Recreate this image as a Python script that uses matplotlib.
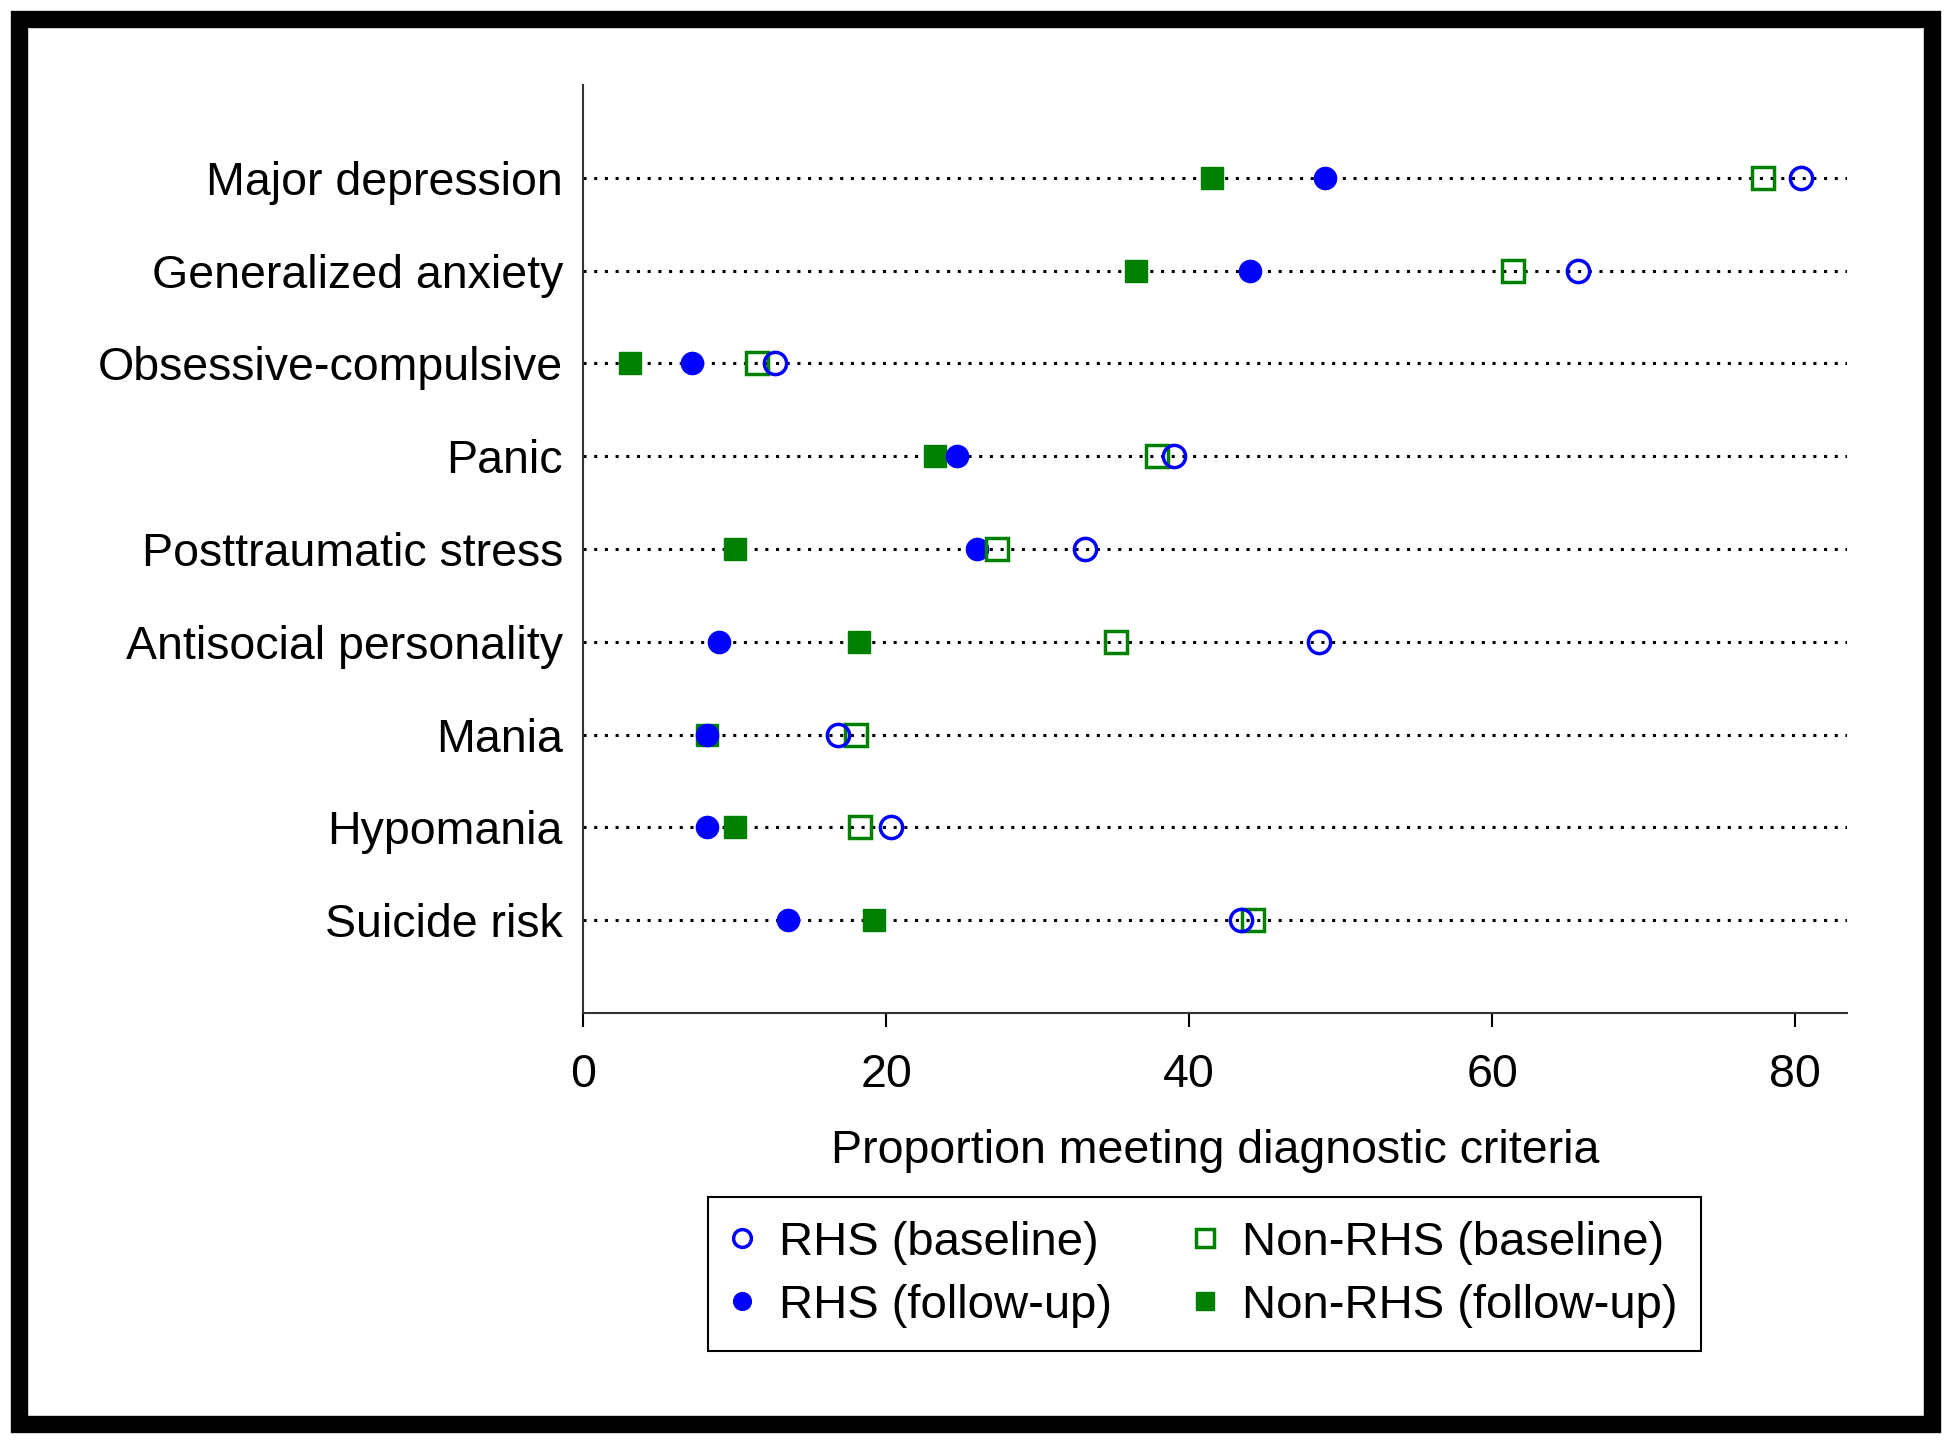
import matplotlib.pyplot as plt
from matplotlib.patches import Rectangle

plt.rcParams["font.family"] = ["Liberation Sans", "DejaVu Sans"]

categories = ["Major depression", "Generalized anxiety", "Obsessive-compulsive",
              "Panic", "Posttraumatic stress", "Antisocial personality",
              "Mania", "Hypomania", "Suicide risk"]

rhs_baseline = [80.4, 65.7, 12.7, 39.0, 33.1, 48.6, 16.8, 20.3, 43.4]
rhs_followup = [49.0, 44.0, 7.2, 24.7, 26.0, 9.0, 8.2, 8.2, 13.5]
nonrhs_baseline = [77.9, 61.4, 11.5, 37.9, 27.3, 35.2, 18.0, 18.3, 44.2]
nonrhs_followup = [41.5, 36.5, 3.1, 23.2, 10.0, 18.2, 8.2, 10.0, 19.2]

xticks = [0, 20, 40, 60, 80]

fig = plt.figure(figsize=(19.5, 14.42), dpi=100)
ax = fig.add_axes([0.299, 0.2975, 0.648, 0.6435])

ypos = list(range(len(categories), 0, -1))

for y in ypos:
    ax.axhline(y, color="black", linestyle=(0, (1, 2.5)), linewidth=2.2, zorder=1)

ms = 16
h_nf, = ax.plot(nonrhs_followup, ypos, "s", color="green", markersize=ms,
                linestyle="none", zorder=3, label="Non-RHS (follow-up)")
h_rf, = ax.plot(rhs_followup, ypos, "o", color="blue", markersize=ms,
                linestyle="none", zorder=3, label="RHS (follow-up)")
h_nb, = ax.plot(nonrhs_baseline, ypos, "s", markerfacecolor="none",
                markeredgecolor="green", markeredgewidth=2.5, markersize=ms,
                linestyle="none", zorder=4, label="Non-RHS (baseline)")
h_rb, = ax.plot(rhs_baseline, ypos, "o", markerfacecolor="none",
                markeredgecolor="blue", markeredgewidth=2.5, markersize=ms,
                linestyle="none", zorder=4, label="RHS (baseline)")

ax.set_ylim(0, len(categories) + 1)
ax.set_xlim(0, 83.4)
ax.set_yticks(ypos)
ax.set_yticklabels(categories, fontsize=33.5)
ax.set_xticks(xticks)
ax.set_xticklabels([str(t) for t in xticks], fontsize=33.5)
ax.tick_params(axis="y", length=0, pad=14.5)
ax.tick_params(axis="x", length=10, width=1.5, pad=19)
ax.set_xlabel("Proportion meeting diagnostic criteria", fontsize=33.5, labelpad=22.5)

for side in ["top", "right"]:
    ax.spines[side].set_visible(False)
for side in ["left", "bottom"]:
    ax.spines[side].set_linewidth(1.5)
    ax.spines[side].set_color("#333333")

leg = fig.legend([h_rb, h_rf, h_nb, h_nf],
                 ["RHS (baseline)", "RHS (follow-up)", "Non-RHS (baseline)", "Non-RHS (follow-up)"],
                 ncol=2, loc="lower left", bbox_to_anchor=(0.363, 0.063),
                 borderaxespad=0, fontsize=34, markerscale=0.8,
                 handlelength=0.45, handletextpad=0.55, columnspacing=1.75,
                 labelspacing=0.4, borderpad=0.5, fancybox=False, framealpha=1,
                 edgecolor="black")
leg.get_frame().set_linewidth(1.5)

fig.patches.append(Rectangle((18.5 / 1950, 18.5 / 1442), 1 - 37 / 1950, 1 - 37 / 1442,
                             transform=fig.transFigure, fill=False,
                             edgecolor="black", linewidth=12.5))

fig.savefig("out.png", dpi=100)
